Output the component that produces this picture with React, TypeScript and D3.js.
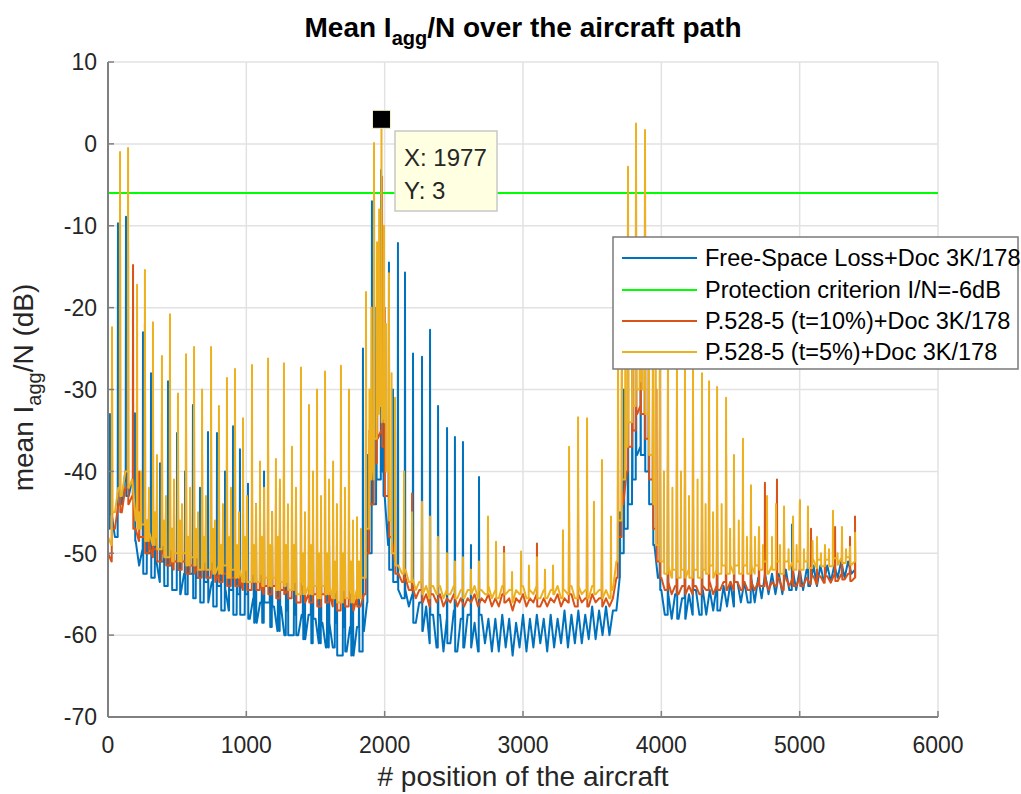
import React from "react";
import * as d3 from "d3";

// ---- axes ----
const xTicks = [0, 1000, 2000, 3000, 4000, 5000, 6000];
const yTicks = [10, 0, -10, -20, -30, -40, -50, -60, -70];

// Protection criterion (dB)
const criterion = -6;

// Data tip on the highest point of the P.528-5 (t=5%) curve
const tipX = 1977;
const tipY = 3;

// ---- noise floor of each curve, one sample every 25 positions (x = 0 .. 5400) ----
const FLOOR_STEP = 25;

const blueFloor = [
  -47, -45, -48, -42, -44, -40, -43, -41,
  -48.5, -51.5, -49.5, -52.5, -50, -53, -51, -53.5,
  -51, -54, -51.5, -54.5, -52, -55, -52.5, -55,
  -52.5, -55.5, -53, -56, -53.5, -56, -53.5, -56.5,
  -54, -57, -54.5, -57, -54.5, -57.5, -55, -57.5,
  -55, -58, -55.5, -58.5, -56, -58.5, -56, -59,
  -56.5, -59.5, -56.5, -60, -57, -60, -57.5, -60,
  -57.5, -60.5, -57.5, -61, -58, -61, -58.5, -61.5,
  -58.5, -61.5, -58.5, -62.5, -59, -62, -59, -62.5,
  -59, -62, -59.5, -56, -50, -44, -41, -40,
  -43, -49, -52, -53.5, -54.5, -55.5, -54.5, -56.5,
  -55, -58.5, -56, -59.5, -56.5, -61, -57.5, -61.5,
  -57.5, -62, -58, -61, -57, -62, -58, -61.5,
  -57.5, -61.5, -58.5, -62, -57.5, -61, -58, -62,
  -58, -62, -57.5, -61.5, -58, -62.5, -58.5, -61.5,
  -57.5, -62, -58, -61.5, -57.5, -61, -58, -62,
  -57.5, -61.5, -58, -61, -57, -61.5, -57.5, -61,
  -57, -61, -57.5, -60.5, -56.5, -60.5, -57, -60,
  -56.5, -60, -57, -57, -53, -50, -47, -44,
  -41, -38, -37, -38, -40, -44, -49, -53,
  -54.5, -57.5, -55, -58, -55, -58, -55.5, -58,
  -55, -57.5, -54.5, -57.5, -54.5, -57.5, -54.5, -57,
  -54, -57, -54, -56.5, -53.5, -56.5, -53.5, -56,
  -53.5, -56, -53, -56, -53, -55.5, -52.5, -55,
  -52.5, -55, -52.5, -55, -52, -54.5, -52, -54.5,
  -52, -54.5, -52, -54, -51.5, -54, -51.5, -53.5,
  -51.5, -53.5, -51.5, -53, -51, -53, -51, -52.5,
  -52,
];

const redFloor = [
  -50, -51, -47, -44, -45, -42, -44, -43,
  -47, -48.5, -48, -50, -49, -50.5, -49.5, -51,
  -50, -51.5, -50.5, -52, -51, -52, -51, -52.5,
  -51.5, -52.5, -51.5, -53, -52, -53, -52, -53.5,
  -52.5, -53.5, -52.5, -54, -53, -54, -53, -54.5,
  -53, -54.5, -53.5, -54.5, -53.5, -55, -54, -55,
  -54, -55.5, -54.5, -55, -54.5, -55.5, -54.5, -56,
  -54.5, -56, -55, -56, -55, -56.5, -55, -56,
  -55, -56.5, -55.5, -57, -55.5, -56.5, -55.5, -57,
  -55.5, -56.5, -55, -50, -44, -39, -36, -35,
  -37, -43, -48, -51, -52.5, -53.5, -53, -54.5,
  -54, -55.5, -54.5, -56, -55, -56.5, -55, -56,
  -55, -56.5, -55.5, -56, -55, -56.5, -55.5, -56.5,
  -55.5, -56, -55, -56.5, -55.5, -56, -55, -56.5,
  -55.5, -56.5, -55, -56, -55.5, -57, -55.5, -56,
  -55, -56.5, -55.5, -56, -55, -56.5, -55.5, -56.5,
  -55.5, -56, -55, -56.5, -55.5, -56, -55, -56.5,
  -55, -56, -55.5, -56.5, -55, -56, -55.5, -56.5,
  -55.5, -56.5, -55.5, -53, -48, -44, -40, -37,
  -35, -33, -32, -33, -36, -41, -47, -51,
  -53, -54.5, -53.5, -55, -54, -55, -54, -55,
  -54, -55, -54, -55, -54, -54.5, -53.5, -55,
  -54, -54.5, -53.5, -54.5, -53.5, -54.5, -53.5, -54.5,
  -53.5, -54.5, -53.5, -54.5, -53.5, -54, -53, -54.5,
  -53.5, -54, -53, -54.5, -53, -54, -53, -54,
  -53, -54, -53, -53.8, -52.8, -53.8, -52.8, -53.6,
  -52.8, -53.6, -52.6, -53.4, -52.6, -53.2, -52.5, -53.4,
  -53,
];

const yellowFloor = [
  -48, -49, -45, -42, -43, -40, -42, -41,
  -46, -47, -46.5, -48.5, -47.5, -49, -48, -49.5,
  -49, -50.5, -49.5, -51, -50, -51, -50, -51.5,
  -50.5, -51.5, -50.5, -52, -51, -52, -51, -52.5,
  -51.5, -52.5, -51.5, -53, -52, -53, -52, -53.5,
  -52, -53.5, -52.5, -53.5, -52.5, -54, -53, -54,
  -53, -54.5, -53.5, -54, -53.5, -54.5, -53.5, -55,
  -53.5, -55, -54, -55, -54, -55.5, -54, -55,
  -54, -55.5, -54.5, -56, -54.5, -55.5, -54.5, -56,
  -54.5, -55.5, -53, -47, -41, -36, -33, -32,
  -34, -40, -46, -50, -51.5, -52.5, -52, -53.5,
  -53, -54.5, -53.5, -55, -54, -55.5, -54, -55,
  -54, -55.5, -54.5, -55, -54, -55.5, -54.5, -55.5,
  -54.5, -55, -54, -55.5, -54.5, -55, -54, -55.5,
  -54.5, -55.5, -54, -55, -54.5, -56, -54.5, -55,
  -54, -55.5, -54.5, -55, -54, -55.5, -54.5, -55.5,
  -54.5, -55, -54, -55.5, -54.5, -55, -54, -55.5,
  -54, -55, -54.5, -55.5, -54, -55, -54.5, -55.5,
  -54.5, -55.5, -54.5, -51, -46, -41, -37, -34,
  -32, -30, -29, -30, -33, -38, -44, -49,
  -51, -52.5, -51.5, -53, -52, -53, -52, -53,
  -52, -53, -52, -53, -52, -52.5, -51.5, -53,
  -52, -52.5, -51.5, -52.5, -51.5, -52.5, -51.5, -52.5,
  -51.5, -52.5, -51.5, -52.5, -51.5, -52, -51, -52.5,
  -51.5, -52, -51, -52.5, -51, -52, -51, -52,
  -51, -52, -51, -51.8, -50.8, -51.8, -50.8, -51.6,
  -50.8, -51.6, -50.6, -51.4, -50.6, -51.2, -50.5, -51.4,
  -51,
];

// ---- narrow peaks on top of each floor: [position, level dB] ----
const blueSpikes: [number, number][] = [
  [14, -33], [72, -9.7], [130, -8.9], [195, -32.9], [253, -23], [282, -46], [311, -28], [340, -47],
  [376, -39], [405, -48], [434, -29], [462, -47], [499, -35.3], [520, -49], [557, -40], [578, -48],
  [614, -31.9], [636, -49], [665, -42], [694, -50], [723, -35.2], [759, -49], [788, -35.3], [817, -51],
  [846, -40], [875, -50], [904, -34.5], [932, -51], [954, -37.3], [990, -52], [1012, -41.5], [1055, -51],
  [1070, -44], [1113, -52], [1128, -40], [1171, -52], [1186, -45], [1229, -53], [1243, -42], [1287, -52],
  [1301, -46], [1345, -53], [1359, -43], [1410, -54], [1424, -47], [1468, -53], [1482, -45], [1526, -54],
  [1540, -48], [1584, -54], [1598, -46], [1641, -55], [1655, -49], [1699, -54], [1713, -47], [1757, -55],
  [1771, -50], [1815, -55], [1843, -25],
  [1875, -38], [1908, -7], [1940, -20], [1974, -3.2], [1990, -22], [2031, -14.5], [2060, -30], [2096, -12.1],
  [2147, -15.7], [2205, -25.6], [2270, -26], [2328, -22.7],
  [2386, -32], [2451, -34.7], [2508, -35.8], [2566, -36.4], [2624, -49], [2682, -40.7],
  [3701, -45], [3730, -30], [3759, -20], [3790, -26], [3817, -14], [3850, -22], [3882, -17], [3910, -26],
  [3940, -28], [3990, -35], [4048, -38], [4113, -40],
  [4171, -42], [4229, -44], [4294, -45], [4403, -47], [4525, -48], [4648, -49], [4945, -46.5], [5060, -49],
];

const redSpikes: [number, number][] = [
  [29, -28], [87, -10], [145, -12], [181, -14.8], [225, -40], [267, -22], [296, -44], [325, -30],
  [354, -43], [390, -33], [419, -45], [448, -30], [477, -44], [506, -38], [535, -46], [564, -34],
  [593, -45], [622, -35], [651, -47], [680, -38], [708, -46], [745, -36], [773, -48], [802, -40],
  [831, -47], [860, -38], [889, -46], [918, -37], [947, -48], [976, -42], [1005, -47], [1041, -40],
  [1070, -48], [1099, -45], [1128, -46], [1157, -38], [1186, -49], [1214, -44], [1243, -47], [1272, -40],
  [1301, -49], [1330, -44], [1359, -48], [1395, -41], [1424, -50], [1453, -42], [1482, -48], [1511, -43],
  [1540, -50], [1569, -41], [1598, -49], [1627, -46], [1655, -51], [1684, -42], [1713, -50], [1742, -44],
  [1771, -51], [1800, -50], [1865, -28],
  [1890, -35], [1923, -6], [1945, -18], [1981, -4], [2000, -20], [2031, -20], [2075, -35], [2140, -45],
  [2198, -42.7], [2270, -48], [2328, -50],
  [2863, -49.2], [3101, -48.8], [3333, -45], [3398, -42], [3463, -44], [3571, -47],
  [3687, -35], [3715, -26], [3759, -8], [3790, -20], [3817, -4], [3850, -18], [3882, -3.6], [3910, -20],
  [3940, -22], [3965, -30], [3990, -25], [4048, -30], [4113, -32],
  [4171, -35], [4229, -33], [4294, -38], [4345, -36], [4403, -40], [4468, -38], [4525, -42], [4590, -44],
  [4648, -45], [4706, -47], [4749, -41.4], [4836, -41], [4887, -47], [4952, -48], [5002, -43.7], [5082, -47],
  [5125, -49], [5183, -50], [5256, -46.8], [5306, -49], [5364, -48], [5400, -45.5],
];

const yellowSpikes: [number, number][] = [
  [29, -22.4], [87, -1], [145, -0.5], [210, -17.2], [225, -45], [239, -40], [267, -15.4], [282, -46],
  [296, -42], [325, -21.8], [340, -45], [354, -38], [390, -25.9], [405, -46], [419, -43], [448, -20.8],
  [462, -47], [477, -41], [506, -30.5], [520, -46], [535, -44], [564, -25.7], [578, -48], [593, -42],
  [622, -24.8], [636, -47], [651, -45], [680, -30], [694, -48], [708, -43], [745, -24.8], [759, -47],
  [773, -46], [802, -32], [817, -49], [831, -44], [860, -28.6], [875, -48], [889, -42], [918, -27.5],
  [932, -49], [947, -45], [976, -33.5], [990, -48], [1005, -43], [1041, -27], [1055, -49], [1070, -44],
  [1099, -38.8], [1113, -48], [1128, -42], [1157, -26.2], [1171, -49], [1186, -45], [1214, -38.5], [1229, -48],
  [1243, -41], [1272, -26.8], [1287, -49], [1301, -44], [1330, -37], [1345, -49], [1359, -42], [1395, -27.3],
  [1410, -50], [1424, -45], [1453, -31.9], [1468, -49], [1482, -40], [1511, -30], [1526, -50], [1540, -43],
  [1569, -27.8], [1584, -50], [1598, -41], [1627, -38.8], [1641, -51], [1655, -44], [1684, -27.1], [1699, -50],
  [1713, -42], [1742, -30], [1757, -51], [1771, -46], [1800, -45.6], [1815, -51], [1829, -47],
  [1865, -18.1], [1890, -30], [1905, -20], [1923, 0.1], [1945, -12],
  [1960, -8], [1977, 3], [1995, -10], [2010, -22], [2031, -15.8], [2050, -28], [2075, -31],
  [2140, -40], [2198, -45], [2270, -43.7], [2328, -45.5], [2385, -48], [2450, -50], [2508, -51], [2566, -50.5],
  [2624, -52], [2682, -51], [2747, -45.5], [2805, -48.6], [2863, -50], [2921, -52.3], [2986, -49.8], [3043, -51.5],
  [3101, -50.5], [3159, -52], [3217, -51.5], [3289, -47.2], [3333, -37], [3398, -33.4], [3463, -33.5], [3513, -43.7],
  [3571, -38.6], [3636, -45.5], [3687, -25], [3715, -22], [3740, -18], [3759, -2.8], [3790, -15], [3817, 2.5],
  [3845, -12], [3860, -16], [3882, 1.7], [3910, -14], [3940, -15], [3960, -24], [3990, -20],
  [4019, -40], [4048, -22], [4080, -42], [4113, -25], [4142, -40], [4171, -26], [4200, -43], [4229, -27],
  [4262, -41], [4294, -28], [4320, -44], [4345, -29], [4374, -45], [4403, -29.7], [4436, -44], [4468, -31],
  [4497, -47], [4525, -38], [4560, -46], [4590, -36], [4619, -48], [4648, -41.7], [4677, -48], [4706, -46.8],
  [4735, -49], [4764, -43], [4800, -48], [4829, -44], [4858, -49], [4887, -44.3], [4920, -49.5], [4952, -45.5],
  [4978, -49], [5002, -43.5], [5031, -49.5], [5060, -44.3], [5093, -48.5], [5125, -48], [5154, -50], [5183, -49],
  [5212, -49.5], [5241, -44.8], [5274, -50], [5306, -46.8], [5335, -49.5], [5364, -49.2], [5400, -47.5],
];

// ---- legend ----
const legendLabels = [
  "Free-Space Loss+Doc 3K/178",
  "Protection criterion I/N=-6dB",
  "P.528-5 (t=10%)+Doc 3K/178",
  "P.528-5 (t=5%)+Doc 3K/178",
];
const legendColors = ["#0072BD", "#00FF00", "#D95319", "#EDB120"];

const FONT = "'Liberation Sans', Arial, Helvetica, sans-serif";

// Merge the floor samples and the peaks into one ordered polyline.
// Each peak keeps the neighbouring floor samples as its shoulders.
function buildSeries(floor: number[], spikes: [number, number][]): [number, number][] {
  const pts: [number, number][] = floor.map((v, i) => [i * FLOOR_STEP, v]);
  const last = floor.length - 1;
  for (const [sx, peak] of spikes) {
    const i = Math.min(Math.floor(sx / FLOOR_STEP), last);
    const j = Math.min(i + 1, last);
    pts.push([sx - 2, floor[i]], [sx, peak], [sx + 2, floor[j]]);
  }
  pts.sort((a, b) => a[0] - b[0]);
  return pts;
}

export default function App() {
  const W = 1021;
  const H = 794;
  const left = 108, right = 938, top = 62, bottom = 717;

  const x = d3.scaleLinear().domain([0, 6000]).range([left, right]);
  const y = d3.scaleLinear().domain([-70, 10]).range([bottom, top]);

  const line = d3
    .line<[number, number]>()
    .x((d) => x(d[0]))
    .y((d) => y(d[1]));

  const series = [
    { color: legendColors[0], pts: buildSeries(blueFloor, blueSpikes) },
    { color: legendColors[2], pts: buildSeries(redFloor, redSpikes) },
    { color: legendColors[3], pts: buildSeries(yellowFloor, yellowSpikes) },
  ];

  const axisColor = "#808080";
  const gridColor = "#e2e2e2";
  const textColor = "#262626";

  const legendX = 613, legendY = 237, legendW = 405, legendH = 132;
  const rowY = [258, 290, 321, 352];

  return (
    <svg
      width={W}
      height={H}
      viewBox={`0 0 ${W} ${H}`}
      style={{ position: "absolute", left: 0, top: 0, background: "#fff" }}
      fontFamily={FONT}
    >
      <defs>
        <clipPath id="plot-clip">
          <rect x={left} y={top - 2} width={right - left} height={bottom - top + 2} />
        </clipPath>
      </defs>
      <rect x={0} y={0} width={W} height={H} fill="#fff" />

      {/* grid */}
      {xTicks.map((t) => (
        <line key={"gx" + t} x1={x(t)} x2={x(t)} y1={top} y2={bottom} stroke={gridColor} strokeWidth={1.5} />
      ))}
      {yTicks.map((t) => (
        <line key={"gy" + t} x1={left} x2={right} y1={y(t)} y2={y(t)} stroke={gridColor} strokeWidth={1.5} />
      ))}

      {/* curves */}
      <g clipPath="url(#plot-clip)" fill="none" strokeLinejoin="round">
        <path d={line(series[0].pts) || ""} stroke={series[0].color} strokeWidth={2} />
        <line x1={x(0)} x2={x(6000)} y1={y(criterion)} y2={y(criterion)} stroke={legendColors[1]} strokeWidth={2} />
        <path d={line(series[1].pts) || ""} stroke={series[1].color} strokeWidth={2} />
        <path d={line(series[2].pts) || ""} stroke={series[2].color} strokeWidth={2} />
      </g>

      {/* axes */}
      <line x1={left} x2={left} y1={top} y2={bottom} stroke={axisColor} strokeWidth={2} />
      <line x1={left} x2={right} y1={bottom} y2={bottom} stroke={axisColor} strokeWidth={2} />
      {yTicks.map((t) => (
        <g key={"yt" + t}>
          <line x1={left} x2={left + 6} y1={y(t)} y2={y(t)} stroke={axisColor} strokeWidth={1.5} />
          <text x={97} y={y(t)} dy="0.36em" textAnchor="end" fontSize={23} fill={textColor}>
            {t}
          </text>
        </g>
      ))}
      {xTicks.map((t) => (
        <g key={"xt" + t}>
          <line x1={x(t)} x2={x(t)} y1={bottom} y2={bottom - 6} stroke={axisColor} strokeWidth={1.5} />
          <text x={x(t)} y={753} textAnchor="middle" fontSize={23} fill={textColor}>
            {t}
          </text>
        </g>
      ))}

      {/* title */}
      <text x={(left + right) / 2} y={37} textAnchor="middle" fontSize={28} fontWeight="bold" fill="#000">
        Mean I<tspan dy={8} fontSize={20}>agg</tspan>
        <tspan dy={-8}>/N over the aircraft path</tspan>
      </text>

      {/* axis labels */}
      <text x={(left + right) / 2} y={786} textAnchor="middle" fontSize={28} fill={textColor}>
        # position of the aircraft
      </text>
      <text transform={`translate(33, ${(top + bottom) / 2 - 2}) rotate(-90)`} textAnchor="middle" fontSize={28} fill={textColor}>
        mean I<tspan dy={8} fontSize={20}>agg</tspan>
        <tspan dy={-8}>/N (dB)</tspan>
      </text>

      {/* data tip */}
      <rect x={x(tipX) - 9} y={y(tipY) - 9} width={18} height={18} fill="#000" stroke="#f4f0c8" strokeWidth={1} />
      <rect x={395} y={131} width={102} height={80} fill="#ffffe1" stroke="#c8c8c8" strokeWidth={1.5} />
      <text x={404} y={166} fontSize={24} fill={textColor}>
        X: {tipX}
      </text>
      <text x={404} y={199} fontSize={24} fill={textColor}>
        Y: {tipY}
      </text>

      {/* legend */}
      <rect x={legendX} y={legendY} width={legendW} height={legendH} fill="#fff" stroke="#7a7a7a" strokeWidth={1.5} />
      {legendLabels.map((lab, i) => (
        <g key={lab}>
          <line x1={622} x2={697} y1={rowY[i]} y2={rowY[i]} stroke={legendColors[i]} strokeWidth={2} />
          <text x={705} y={rowY[i]} dy="0.36em" fontSize={23.5} fill="#000">
            {lab}
          </text>
        </g>
      ))}
    </svg>
  );
}
